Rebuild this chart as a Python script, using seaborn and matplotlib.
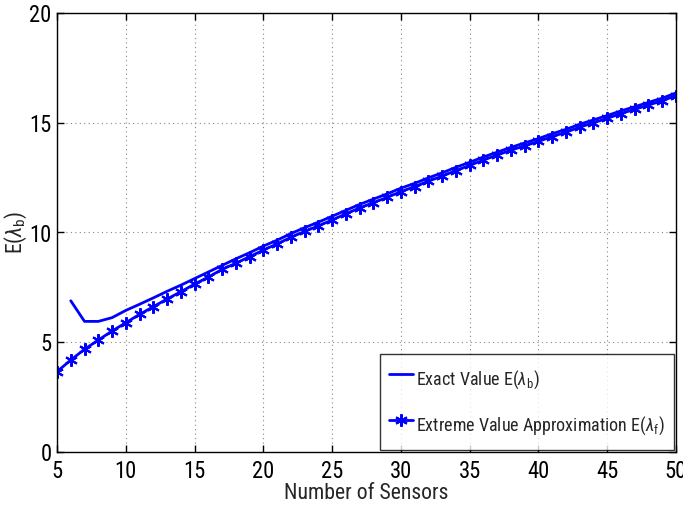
import matplotlib
matplotlib.use("Agg")
import matplotlib.pyplot as plt
import seaborn as sns
import pandas as pd
from matplotlib import font_manager

sensors_approx = list(range(5, 51))
approx_vals = [3.66, 4.19, 4.68, 5.10, 5.51, 5.89, 6.27, 6.62, 6.97, 7.30,
               7.65, 7.97, 8.32, 8.60, 8.90, 9.20, 9.48, 9.78, 10.05, 10.30,
               10.57, 10.85, 11.12, 11.36, 11.60, 11.86, 12.09, 12.34, 12.57, 12.82,
               13.06, 13.30, 13.53, 13.75, 13.95, 14.15, 14.37, 14.57, 14.80, 15.00,
               15.20, 15.42, 15.61, 15.81, 16.00, 16.24]
sensors_exact = list(range(6, 51))
exact_vals = [6.89, 5.95, 5.95, 6.12, 6.45, 6.73, 7.02, 7.32, 7.60, 7.90,
              8.20, 8.50, 8.80, 9.08, 9.38, 9.65, 9.95, 10.22, 10.47, 10.74,
              11.01, 11.28, 11.52, 11.76, 12.02, 12.24, 12.49, 12.72, 12.97, 13.20,
              13.44, 13.66, 13.88, 14.08, 14.28, 14.50, 14.70, 14.93, 15.13, 15.33,
              15.54, 15.73, 15.93, 16.12, 16.36]
x_ticks = [5, 10, 15, 20, 25, 30, 35, 40, 45, 50]
y_ticks = [0, 5, 10, 15, 20]

sns.set_style("white")
names = {f.name for f in font_manager.fontManager.ttflist}
condensed = None
for cand in ["Liberation Sans Narrow", "Roboto Condensed", "Open Sans Condensed",
             "Noto Sans Condensed", "DejaVu Sans Condensed"]:
    if cand in names:
        condensed = cand
        break
stretch = 'normal'
if condensed is None:
    for f in font_manager.fontManager.ttflist:
        if f.name in ("Roboto", "Open Sans", "Noto Sans", "DejaVu Sans") and \
                str(f.stretch) in ("condensed", "semi-condensed", "75", "87.5", "62.5"):
            condensed = f.name
            stretch = 'condensed'
            break
fam = condensed if condensed else "Liberation Sans"
plt.rcParams['font.family'] = [fam, 'DejaVu Sans']
plt.rcParams['font.stretch'] = stretch
plt.rcParams['mathtext.fontset'] = 'custom'
plt.rcParams['mathtext.rm'] = fam
plt.rcParams['mathtext.it'] = fam + ':italic'

scale = 1.12 if condensed else 1.0
tick_fs = 14.5 * scale
lab_fs = 14 * scale
leg_fs = 11.6 * scale

fig = plt.figure(figsize=(6.83, 5.12), dpi=100)
ax = fig.add_axes([57/683, 60/512, 619/683, 439/512])

df_exact = pd.DataFrame({"n": sensors_exact, "v": exact_vals})
df_approx = pd.DataFrame({"n": sensors_approx, "v": approx_vals})

sns.lineplot(data=df_exact, x="n", y="v", ax=ax, color=(0, 0, 1), linewidth=2,
             label=r"Exact Value E($\lambda_{\mathrm{b}}$)")
sns.lineplot(data=df_approx, x="n", y="v", ax=ax, color=(0, 0, 1), linewidth=2,
             marker=(6, 2, 0), markersize=9, markeredgewidth=1.5,
             markeredgecolor=(0, 0, 1),
             label=r"Extreme Value Approximation E($\lambda_{\mathrm{f}}$)")

ax.set_xlim(5, 50)
ax.set_ylim(0, 20)
ax.set_xticks(x_ticks)
ax.set_yticks(y_ticks)
ax.tick_params(direction='in', length=5, width=1, labelsize=tick_fs, colors='black',
               top=True, right=True, bottom=True, left=True, pad=4)
ax.tick_params(axis='x', pad=6)
ax.grid(True, linestyle=(0, (1, 3)), color='#888888', linewidth=0.8)
for s in ax.spines.values():
    s.set_visible(True)
    s.set_color('black')
    s.set_linewidth(1)

ax.set_xlabel("Number of Sensors", fontsize=lab_fs, labelpad=0)
ax.set_ylabel(r"E($\lambda_{\mathrm{b}}$)", fontsize=lab_fs, labelpad=0)

leg = ax.legend(loc='lower right', fontsize=leg_fs, frameon=True, fancybox=False,
                borderaxespad=0.1, handlelength=1.3, handletextpad=0.15,
                handleheight=2.2, labelspacing=0.9, borderpad=0.55)
leg.get_frame().set_edgecolor('black')
leg.get_frame().set_linewidth(1)

fig.savefig("out.png", dpi=100)
